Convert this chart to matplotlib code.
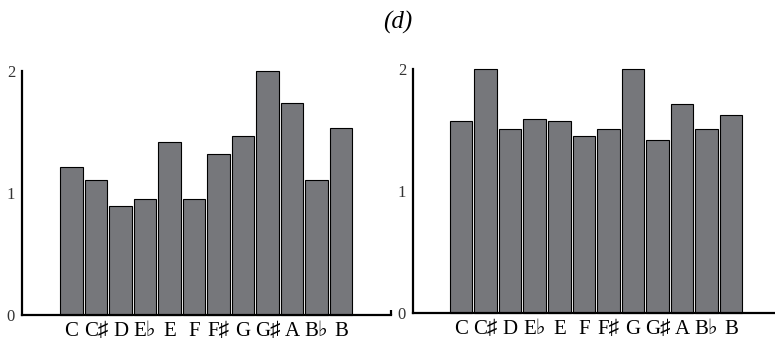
import matplotlib
matplotlib.use("Agg")
import matplotlib.pyplot as plt
import numpy as np

notes = ["C", "C\u266f", "D", "E\u266d", "E", "F", "F\u266f", "G", "G\u266f", "A", "B\u266d", "B"]
left_values = [1.21, 1.11, 0.89, 0.95, 1.42, 0.95, 1.32, 1.47, 2.00, 1.74, 1.11, 1.53]
right_values = [1.57, 2.00, 1.51, 1.59, 1.57, 1.45, 1.51, 2.00, 1.42, 1.71, 1.51, 1.62]
y_ticks = [0, 1, 2]
title = "(d)"

W, H = 775, 343
fig = plt.figure(figsize=(W / 100, H / 100), dpi=100)
fam = ["Liberation Serif", "DejaVu Serif", "DejaVu Sans"]
bar_color = "#76777b"

def px_axes(x0, y0_base, x1, y_top):
    return fig.add_axes([x0 / W, (H - y0_base) / H, (x1 - x0) / W, (y0_base - y_top) / H])

def draw(ax, vals, xlim, end_tick):
    x = np.arange(len(vals))
    ax.bar(x, vals, width=0.92, color=bar_color, edgecolor="black", linewidth=0.8, clip_on=False)
    ax.set_xlim(*xlim)
    ax.set_ylim(0, 2)
    for s in ["top", "right"]:
        ax.spines[s].set_visible(False)
    ax.spines["left"].set_linewidth(1.6)
    ax.spines["bottom"].set_linewidth(1.6)
    ax.set_xticks(x)
    ax.set_xticklabels(notes, fontfamily=fam, fontsize=15)
    ax.set_yticks(y_ticks)
    ax.set_yticklabels([str(v) for v in y_ticks], fontfamily=fam, fontsize=12, color="#333333")
    ax.tick_params(axis="x", length=0, pad=5)
    ax.tick_params(axis="y", length=0, pad=5)
    ax.patch.set_visible(False)
    if end_tick:
        ax.plot([1, 1], [0, 0.022], transform=ax.transAxes, color="black", lw=1.6,
                clip_on=False, solid_capstyle="butt")

axL = px_axes(22, 315, 391, 71)
draw(axL, left_values, (-2.02, 13.04), True)
axR = px_axes(413, 313, 775, 69)
draw(axR, right_values, (-1.96, 12.79), False)

fig.text(398 / W, 1 - 22 / H, title, ha="center", va="center", fontsize=18,
         fontfamily=fam, fontstyle="italic")

fig.savefig("out.png", dpi=100)
